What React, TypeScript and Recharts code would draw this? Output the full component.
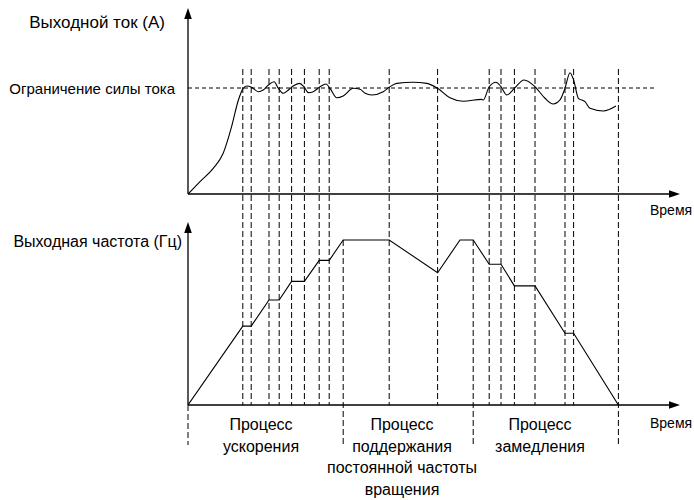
import React from "react";
import {
  ComposedChart,
  Line,
  XAxis,
  YAxis,
  ReferenceLine,
  ReferenceDot,
} from "recharts";

// ---------- data ----------
// time in arbitrary units
const currentTimes = [
  0, 3, 6.3, 8.8, 10.9, 12.6, 13.8, 14.7, 15.9, 17.6, 18.8, 20.1, 21.5, 22.6, 23.8,
  25.1, 26.3, 27.8, 29, 30.1, 31.3, 33, 34.5, 35.5, 37.2, 38.8, 41.3, 43, 44.3, 45.9,
  48.8, 50.3, 52.2, 56.3, 59.7, 62.4, 65.5, 68.8, 73.4, 73.8, 75.3, 77, 78.25, 79.7,
  81.6, 84, 86.75, 89.25, 91.3, 93, 94.25, 95.5, 96.4, 97.6, 99.25, 100.5, 103.8, 107,
];
const currentValues = [
  0, 11.6, 24.2, 38.4, 63.5, 88.7, 99.7, 101.9, 100.7, 96.5, 98.1, 102.8, 105.9, 99.7, 95,
  98.1, 101.9, 104.4, 101.2, 95.6, 96.5, 101.2, 103.8, 99.7, 90.8, 92.5, 99.7, 98.8, 95, 93.4,
  96.5, 100.7, 104.4, 105.4, 104.4, 99.7, 90.8, 87.5, 89.3, 88.7, 101.2, 105.4, 101.2, 93.4,
  99.7, 107.5, 101.2, 90.3, 84.9, 88.7, 99.7, 114.4, 107.5, 90.3, 87.1, 80.8, 78.3, 83,
];
const currentLimit = 100;
const limitEnd = 116.75;

const freqTimes = [
  0, 13.7, 15.8, 20.25, 22.8, 25.9, 29.1, 32.8, 35.3, 38.8, 50.3, 62.4, 68, 71.3, 75.3,
  78.25, 81.6, 86.75, 94.25, 96.4, 107.6,
];
const freqValues = [
  0, 26.3, 26.3, 35, 35, 41.2, 41.2, 48.2, 48.2, 55, 55, 44.1, 55, 55, 46.9, 46.9, 39.7,
  39.7, 23.9, 23.9, 0,
];

// switching instants drawn as dashed verticals through both panels
const switchTimes = [
  13.7, 15.8, 20.25, 22.8, 25.9, 29.1, 32.8, 35.3, 50.3, 62.4, 75.3, 78.25, 81.6, 86.75,
  94.25, 96.4, 107.6,
];
// process boundaries (dashed below the time axis)
const phaseBounds = [0, 38.8, 71.3, 107.6];
const plateauFreq = 55;

const processLabels = [
  ["Процесс", "ускорения"],
  ["Процесс", "поддержания", "постоянной частоты", "вращения"],
  ["Процесс", "замедления"],
];
const processCenters = [18.25, 53.5, 88];

const currentTitle = "Выходной ток (А)";
const limitLabel = "Ограничение силы тока";
const freqTitle = "Выходная частота (Гц)";
const timeLabel = "Время";

// ---------- layout ----------
const W = 694;
const H = 500;
const PLOT_LEFT = 188;
const PLOT_RIGHT = 680;
const PLOT_TOP = 8;
const PLOT_BOTTOM = 405;
const TIME_MAX = 123;
const FREQ_PX = 3; // px per Hz unit
const CUR_ZERO_Y = 194;
const CUR_PX = 1.06;
const freqDomain = [0, (PLOT_BOTTOM - PLOT_TOP) / FREQ_PX];
const curDomain = [-(PLOT_BOTTOM - CUR_ZERO_Y) / CUR_PX, (CUR_ZERO_Y - PLOT_TOP) / CUR_PX];
const curTop = curDomain[1];
const freqArrowTop = (PLOT_BOTTOM - 222) / FREQ_PX;
const dashTopFreq = (PLOT_BOTTOM - 69) / FREQ_PX;
const dashBottomFreq = -(445 - PLOT_BOTTOM) / FREQ_PX;

const FONT = "'Liberation Sans', Arial, sans-serif";

const currentData = currentTimes.map((t, i) => ({ t, v: currentValues[i] }));
const freqData = freqTimes.map((t, i) => ({ t, v: freqValues[i] }));

const Arrow = (props: any) => {
  const { x1, y1, x2, y2 } = props;
  const len = Math.hypot(x2 - x1, y2 - y1) || 1;
  const ux = (x2 - x1) / len;
  const uy = (y2 - y1) / len;
  const L = 11;
  const hw = 3.8;
  const bx = x2 - ux * L;
  const by = y2 - uy * L;
  const p = `${x2},${y2} ${bx - uy * hw},${by + ux * hw} ${bx + uy * hw},${by - ux * hw}`;
  return (
    <g>
      <line x1={x1} y1={y1} x2={bx + ux * 2} y2={by + uy * 2} stroke="#000" strokeWidth={1.3} />
      <polygon points={p} fill="#000" />
    </g>
  );
};

const makeText =
  (lines: string[], opts: { dx: number; dy: number; anchor: string; size: number; lh?: number }) =>
  (p: any) => {
    const x = p.cx + opts.dx;
    const y = p.cy + opts.dy;
    return (
      <text
        x={x}
        y={y}
        textAnchor={opts.anchor as any}
        fontSize={opts.size}
        fontFamily={FONT}
        fill="#000"
      >
        {lines.map((l, i) => (
          <tspan key={i} x={x} dy={i === 0 ? 0 : opts.lh ?? 21}>
            {l}
          </tspan>
        ))}
      </text>
    );
  };

export default function App() {
  return (
    <div style={{ position: "absolute", left: 0, top: 0, width: W, height: H, background: "#fff" }}>
      <ComposedChart
        width={W}
        height={H}
        margin={{ top: PLOT_TOP, right: W - PLOT_RIGHT, bottom: H - PLOT_BOTTOM, left: PLOT_LEFT }}
      >
        <XAxis type="number" dataKey="t" domain={[0, TIME_MAX]} hide allowDataOverflow />
        <YAxis yAxisId="cur" type="number" domain={curDomain} hide allowDataOverflow />
        <YAxis yAxisId="freq" type="number" domain={freqDomain} hide allowDataOverflow />

        {/* limit line */}
        <ReferenceLine
          yAxisId="cur"
          segment={[
            { x: 0, y: currentLimit },
            { x: limitEnd, y: currentLimit },
          ]}
          stroke="#000"
          strokeWidth={1}
          strokeDasharray="4 3"
          ifOverflow="visible"
        />

        {/* switching verticals */}
        {switchTimes.map((t, i) => (
          <ReferenceLine
            key={"s" + i}
            yAxisId="freq"
            segment={[
              { x: t, y: dashTopFreq },
              { x: t, y: t === phaseBounds[3] ? dashBottomFreq : 0 },
            ]}
            stroke="#000"
            strokeWidth={1}
            strokeDasharray="6 3"
            ifOverflow="visible"
          />
        ))}
        {phaseBounds.slice(0, 3).map((t, i) => (
          <ReferenceLine
            key={"p" + i}
            yAxisId="freq"
            segment={[
              { x: t, y: i === 0 ? 0 : plateauFreq },
              { x: t, y: dashBottomFreq },
            ]}
            stroke="#000"
            strokeWidth={1}
            strokeDasharray="6 3"
            ifOverflow="visible"
          />
        ))}

        {/* axes with arrows */}
        <ReferenceLine
          yAxisId="cur"
          segment={[
            { x: 0, y: 0 },
            { x: 0, y: curTop },
          ]}
          shape={Arrow}
          ifOverflow="visible"
        />
        <ReferenceLine
          yAxisId="cur"
          segment={[
            { x: 0, y: 0 },
            { x: TIME_MAX, y: 0 },
          ]}
          shape={Arrow}
          ifOverflow="visible"
        />
        <ReferenceLine
          yAxisId="freq"
          segment={[
            { x: 0, y: 0 },
            { x: 0, y: freqArrowTop },
          ]}
          shape={Arrow}
          ifOverflow="visible"
        />
        <ReferenceLine
          yAxisId="freq"
          segment={[
            { x: 0, y: 0 },
            { x: TIME_MAX, y: 0 },
          ]}
          shape={Arrow}
          ifOverflow="visible"
        />

        <Line
          yAxisId="cur"
          data={currentData}
          dataKey="v"
          type="monotone"
          stroke="#000"
          strokeWidth={1.1}
          dot={false}
          isAnimationActive={false}
        />
        <Line
          yAxisId="freq"
          data={freqData}
          dataKey="v"
          type="linear"
          stroke="#000"
          strokeWidth={1.1}
          dot={false}
          isAnimationActive={false}
        />

        {/* texts */}
        <ReferenceDot
          yAxisId="cur"
          x={0}
          y={curTop}
          ifOverflow="visible"
          shape={makeText([currentTitle], { dx: -23, dy: 20, anchor: "end", size: 17 })}
        />
        <ReferenceDot
          yAxisId="cur"
          x={0}
          y={currentLimit}
          ifOverflow="visible"
          shape={makeText([limitLabel], { dx: -13, dy: 6, anchor: "end", size: 15 })}
        />
        <ReferenceDot
          yAxisId="freq"
          x={0}
          y={freqArrowTop}
          ifOverflow="visible"
          shape={makeText([freqTitle], { dx: -6, dy: 25, anchor: "end", size: 16 })}
        />
        <ReferenceDot
          yAxisId="cur"
          x={TIME_MAX}
          y={0}
          ifOverflow="visible"
          shape={makeText([timeLabel], { dx: -30, dy: 21, anchor: "start", size: 14 })}
        />
        <ReferenceDot
          yAxisId="freq"
          x={TIME_MAX}
          y={0}
          ifOverflow="visible"
          shape={makeText([timeLabel], { dx: -30, dy: 23, anchor: "start", size: 14 })}
        />
        {processLabels.map((lines, i) => (
          <ReferenceDot
            key={"pl" + i}
            yAxisId="freq"
            x={processCenters[i]}
            y={0}
            ifOverflow="visible"
            shape={makeText(lines, { dx: 0, dy: 25, anchor: "middle", size: 16, lh: 21.5 })}
          />
        ))}
      </ComposedChart>
    </div>
  );
}
